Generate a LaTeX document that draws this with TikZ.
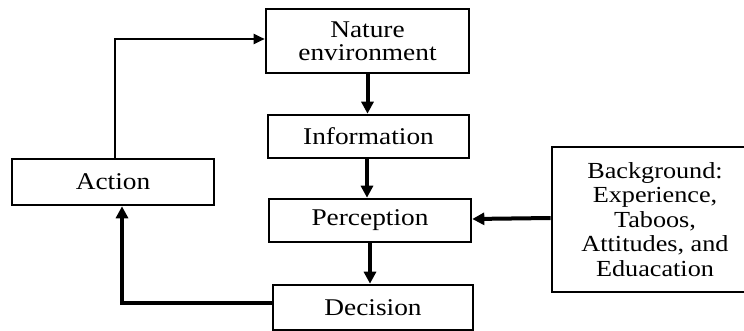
\documentclass[tikz,border=0pt]{standalone}
\usepackage{fontspec}
\setmainfont[FakeStretch=1.14]{Liberation Serif}
\usepackage{tikz}
\usetikzlibrary{arrows.meta}

\tikzset{
  stagebox/.style={draw, line width=2.6pt, align=center, inner sep=0pt,
    font=\fontsize{24}{23}\selectfont},
  bigflow/.style={line width=4pt, -{Triangle[length=12pt,width=12pt]}},
  thinflow/.style={line width=2pt, -{Triangle[length=11pt,width=10pt]}}
}

\begin{document}
\begin{tikzpicture}[x=1pt, y=-1pt]
\useasboundingbox[fill=white] (0,0) rectangle (744,331);

\node[stagebox, minimum width=203pt, minimum height=64pt] (nature) at (367.5,41) {Nature\\environment};
\node[stagebox, minimum width=201pt, minimum height=43pt] (info) at (368.5,136.5) {Information};
\node[stagebox, minimum width=202pt, minimum height=43pt] (percep) at (370,220.5) {Perception};
\node[stagebox, minimum width=200pt, minimum height=45pt] (decision) at (373,307.5) {Decision};
\node[stagebox, minimum width=202pt, minimum height=46pt] (action) at (113,182) {Action};
\node[stagebox, minimum width=206pt, minimum height=145pt,
  font=\fontsize{23}{24.5}\selectfont] (backgr) at (655,219.5)
  {Background:\\Experience,\\Taboos,\\Attitudes, and\\Eduacation};

% main chain
\draw[bigflow] (nature.south) -- (nature.south |- info.north);
\draw[bigflow] ([xshift=-1.5pt]info.south) -- ([xshift=-1.5pt]info.south |- percep.north);
\draw[bigflow] (percep.south) -- (percep.south |- decision.north);

% feedback loop
\draw[bigflow] ([yshift=4.5pt]decision.west) -| ([xshift=9pt]action.south);
\draw[thinflow] ([xshift=2pt]action.north) |- ([yshift=2pt]nature.west);

% background influence
\draw[bigflow] ([yshift=1.5pt]backgr.west) -- ([yshift=1.5pt]percep.east);
\end{tikzpicture}
\end{document}
